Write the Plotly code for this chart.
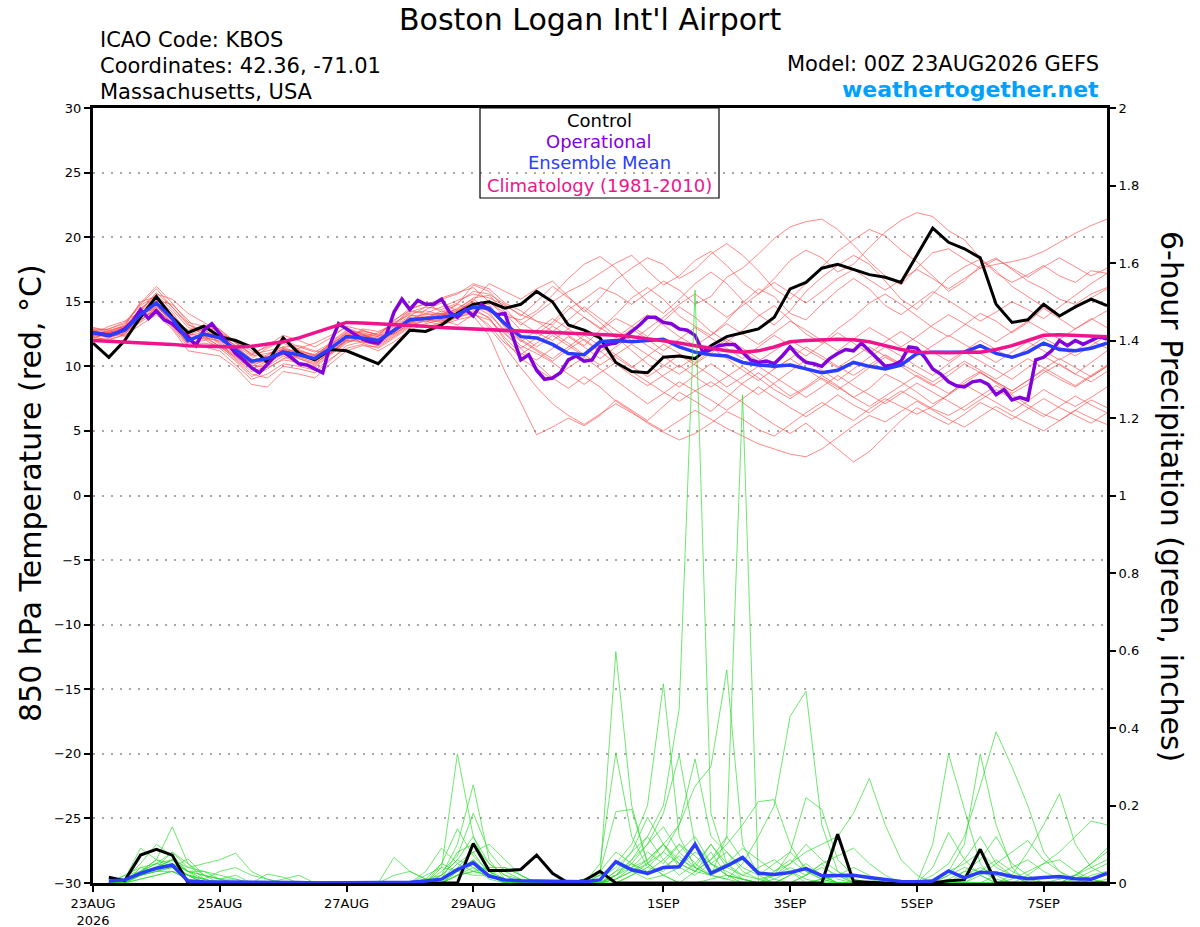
import pandas as pd
import plotly.graph_objects as go

FONT = "DejaVu Sans, Verdana, sans-serif"

# time axis: GEFS run 00Z 23AUG2026, 6-hourly (ensemble) and 3-hourly (operational)
run_start = "2026-08-23 00:00"
run_end = "2026-09-08 00:00"
t6 = pd.date_range(run_start, periods=65, freq="6h")
t3 = pd.date_range(run_start, periods=129, freq="3h")

tick_dates = ["2026-08-23", "2026-08-25", "2026-08-27", "2026-08-29",
              "2026-09-01", "2026-09-03", "2026-09-05", "2026-09-07"]
tick_text = ["23AUG<br>2026", "25AUG", "27AUG", "29AUG", "1SEP", "3SEP", "5SEP", "7SEP"]

# 850 hPa temperature (C), 6-hourly
control_t = [11.8, 10.7, 12.0, 13.8, 15.4, 13.8, 12.6, 13.1, 12.3, 12.0, 11.5, 10.3, 12.2,
             11.0, 10.5, 11.3, 11.2, 10.7, 10.2, 11.5, 12.8, 12.7, 13.2, 14.1, 14.8, 15.0,
             14.5, 14.8, 15.8, 15.0, 13.2, 12.8, 12.2, 10.3, 9.6, 9.5, 10.7, 10.8, 10.6,
             11.6, 12.3, 12.6, 12.9, 13.8, 16.0, 16.5, 17.6, 17.9, 17.5, 17.1, 16.9, 16.5,
             18.6, 20.7, 19.6, 19.1, 18.4, 14.8, 13.4, 13.6, 14.8, 13.9, 14.6, 15.2, 14.7]

mean_t = [12.6, 12.4, 12.8, 14.0, 14.9, 13.7, 12.0, 12.5, 12.2, 11.3, 10.4, 10.6, 11.1,
          10.9, 10.6, 11.4, 12.3, 12.2, 12.0, 12.8, 13.6, 13.7, 13.8, 14.0, 14.6, 14.5,
          13.3, 12.3, 12.2, 11.7, 11.0, 10.9, 11.9, 12.0, 11.9, 12.0, 12.1, 11.5, 11.1,
          10.9, 10.8, 10.3, 10.1, 10.0, 10.1, 9.8, 9.5, 9.7, 10.3, 10.0, 9.8, 10.1,
          11.0, 11.1, 11.1, 11.1, 11.6, 11.0, 10.7, 11.1, 11.8, 11.3, 11.2, 11.4, 11.8]

clim_t = [12.0, 11.95, 11.9, 11.8, 11.75, 11.7, 11.6, 11.55, 11.5, 11.5, 11.55, 11.7, 11.9,
          12.2, 12.6, 13.0, 13.4, 13.35, 13.3, 13.25, 13.2, 13.1, 13.0, 12.95, 12.9, 12.85,
          12.75, 12.7, 12.65, 12.6, 12.55, 12.5, 12.5, 12.4, 12.3, 12.15, 12.0, 11.8, 11.6,
          11.4, 11.2, 11.1, 11.2, 11.5, 11.9, 12.0, 12.05, 12.1, 12.05, 11.9, 11.6, 11.3,
          11.1, 11.05, 11.05, 11.1, 11.1, 11.3, 11.6, 12.0, 12.4, 12.45, 12.4, 12.4, 12.3]

# operational run, 3-hourly
oper_t = [12.6, 12.5, 12.4, 12.6, 12.9, 13.5, 14.4, 13.7, 14.3, 13.6, 13.3, 12.7, 12.3,
          11.6, 12.8, 13.3, 12.5, 11.7, 11.0, 10.5, 9.9, 9.5, 10.2, 10.8, 11.1, 10.7,
          10.2, 10.1, 9.8, 9.5, 11.8, 13.3, 12.9, 12.5, 12.1, 11.9, 11.8, 12.4, 14.2,
          15.2, 14.4, 15.1, 14.8, 14.8, 15.2, 14.2, 13.8, 14.4, 13.9, 14.8, 14.4, 14.0,
          14.1, 12.3, 10.5, 10.9, 9.7, 9.0, 9.1, 9.5, 10.5, 10.8, 10.4, 10.5, 11.5,
          11.7, 11.8, 12.2, 12.7, 13.2, 13.8, 13.8, 13.4, 13.3, 12.9, 12.8, 12.4, 11.1,
          11.3, 11.6, 11.7, 11.7, 11.1, 10.5, 10.3, 10.4, 10.2, 10.8, 11.5, 10.8, 10.3,
          10.2, 10.0, 10.6, 11.0, 11.3, 11.2, 11.8, 11.2, 10.6, 10.0, 10.1, 10.4, 11.5,
          11.4, 10.7, 9.8, 9.4, 8.8, 8.5, 8.4, 8.8, 8.9, 8.6, 7.8, 8.2, 7.4,
          7.6, 7.4, 10.5, 10.7, 11.2, 12.0, 11.6, 12.0, 11.7, 12.0, 12.3, 12.1]

# ensemble members, 850 hPa temperature (C), 6-hourly
temp_members = [
    [12.8, 12.9, 13.4, 14.8, 16.0, 14.6, 13.2, 12.8, 12.2, 11.4, 10.2, 10.8, 11.8,
     11.2, 10.5, 11.9, 12.8, 12.6, 12.3, 13.6, 14.3, 14.1, 14.6, 15.1, 15.6, 15.3,
     14.7, 14.0, 13.5, 13.2, 14.4, 15.2, 16.1, 15.6, 14.8, 15.7, 16.6, 15.9, 14.8,
     15.4, 16.9, 17.6, 18.7, 19.9, 20.8, 21.2, 21.4, 20.6, 19.4, 18.1, 17.0, 16.3,
     17.6, 18.8, 19.1, 18.3, 17.6, 17.9, 18.1, 18.4, 18.9, 19.6, 20.3, 20.9, 21.4],
    [12.4, 12.7, 13.1, 15.0, 15.4, 14.0, 12.6, 13.2, 12.9, 11.8, 10.9, 11.2, 11.5,
     11.6, 11.2, 11.0, 12.0, 12.9, 12.7, 13.2, 14.4, 14.9, 14.2, 14.8, 16.3, 15.8,
     14.5, 13.2, 14.1, 15.0, 15.8, 16.4, 17.2, 18.0, 18.6, 17.4, 16.3, 17.0, 18.2,
     18.9, 17.8, 16.5, 15.6, 16.8, 18.2, 19.0, 18.4, 17.3, 17.9, 19.2, 20.4, 21.3,
     21.9, 21.6, 20.5, 19.8, 18.4, 17.2, 16.5, 17.1, 17.8, 17.0, 16.5, 17.4, 17.2],
    [12.9, 12.2, 12.6, 13.8, 15.1, 14.8, 13.6, 12.2, 11.6, 10.8, 9.8, 10.2, 11.4,
     10.6, 10.1, 11.2, 12.1, 12.8, 12.4, 12.5, 13.3, 14.4, 14.9, 14.3, 15.1, 16.4,
     15.8, 15.2, 16.0, 16.6, 15.4, 14.2, 15.3, 16.7, 17.6, 18.4, 17.9, 16.8, 17.5,
     18.7, 19.5, 18.6, 17.4, 16.0, 15.2, 16.4, 17.7, 18.9, 19.8, 20.6, 20.1, 19.0,
     18.1, 17.0, 15.8, 16.6, 17.8, 18.4, 17.5, 16.6, 16.0, 15.2, 14.8, 15.6, 16.1],
    [12.2, 12.5, 13.0, 14.3, 15.6, 15.2, 14.1, 13.4, 12.6, 11.9, 11.2, 10.7, 11.0,
     11.4, 11.8, 12.4, 13.0, 12.5, 11.8, 12.6, 13.9, 14.6, 15.3, 15.7, 16.1, 15.0,
     13.9, 13.6, 14.3, 15.5, 16.8, 17.9, 18.5, 17.6, 16.2, 15.0, 14.1, 15.2, 16.4,
     17.3, 16.4, 15.1, 14.0, 13.2, 14.3, 15.8, 16.9, 17.8, 18.6, 17.9, 16.6, 15.2,
     14.4, 15.6, 16.9, 17.7, 18.3, 17.4, 16.2, 15.4, 14.6, 13.9, 14.5, 15.3, 16.0],
    [13.0, 12.8, 12.3, 13.6, 14.5, 13.2, 11.8, 12.0, 12.6, 11.5, 10.6, 11.4, 12.0,
     11.3, 10.8, 11.6, 12.6, 12.0, 11.6, 13.0, 13.8, 13.4, 14.0, 14.8, 14.4, 15.0,
     14.1, 12.8, 12.5, 13.4, 14.7, 13.8, 12.9, 14.0, 15.3, 16.1, 15.2, 13.9, 13.1,
     12.4, 13.5, 14.9, 16.0, 15.4, 14.1, 13.6, 14.8, 15.9, 16.8, 16.0, 14.7, 14.0,
     14.9, 15.8, 15.1, 14.3, 13.5, 14.2, 15.0, 14.4, 13.7, 14.6, 15.5, 16.4, 17.2],
    [12.5, 13.1, 13.5, 14.2, 14.4, 13.4, 12.4, 12.9, 11.8, 10.6, 9.6, 10.0, 10.8,
     10.2, 9.9, 10.9, 11.8, 12.3, 12.6, 13.4, 14.0, 13.6, 13.5, 14.3, 15.0, 14.2,
     12.6, 11.4, 12.2, 13.1, 12.4, 11.6, 12.8, 13.7, 13.1, 12.3, 13.5, 14.6, 13.8,
     12.7, 11.9, 12.8, 13.9, 14.7, 13.6, 12.5, 11.8, 12.9, 13.8, 14.9, 15.6, 14.8,
     13.9, 13.0, 12.3, 13.2, 14.1, 13.5, 12.6, 13.4, 14.5, 13.7, 12.9, 13.6, 14.3],
    [12.7, 12.3, 12.9, 14.1, 15.0, 13.9, 12.3, 12.1, 11.4, 10.4, 9.2, 9.8, 10.6,
     10.8, 10.4, 11.1, 12.0, 11.9, 11.6, 12.4, 13.2, 13.5, 13.2, 13.6, 13.9, 12.4,
     9.6, 7.2, 4.7, 5.3, 6.0, 5.4, 6.2, 7.4, 6.6, 5.8, 6.9, 8.0, 7.3,
     6.5, 7.6, 8.7, 9.5, 8.6, 7.7, 8.4, 9.3, 8.5, 7.6, 8.3, 9.4, 8.8,
     8.0, 7.1, 7.8, 8.9, 9.6, 8.7, 7.9, 8.6, 9.5, 10.2, 9.4, 8.8, 9.6],
    [12.3, 12.0, 12.5, 13.5, 14.6, 13.5, 11.6, 11.5, 11.2, 10.1, 9.0, 9.4, 10.2,
     10.0, 9.7, 10.6, 11.4, 11.7, 11.2, 11.9, 12.8, 13.3, 13.6, 13.2, 14.0, 13.6,
     12.5, 11.4, 10.2, 9.1, 8.3, 9.2, 8.4, 7.3, 6.5, 5.6, 4.9, 4.3, 4.8,
     5.6, 6.5, 5.9, 5.1, 4.6, 5.5, 6.4, 7.2, 6.5, 5.8, 6.7, 7.5, 6.9,
     6.3, 6.9, 7.8, 8.6, 7.9, 7.2, 6.5, 7.3, 8.2, 7.5, 6.9, 7.6, 8.4],
    [12.6, 12.6, 13.0, 14.5, 15.3, 14.2, 12.5, 12.3, 11.9, 11.0, 10.1, 9.9, 10.5,
     10.3, 10.0, 11.0, 12.1, 12.4, 12.1, 12.9, 13.5, 13.0, 13.4, 14.2, 14.7, 14.0,
     12.8, 11.6, 11.0, 10.3, 9.4, 8.6, 9.5, 10.3, 9.6, 8.8, 8.0, 7.3, 8.1,
     8.8, 8.0, 7.2, 6.3, 5.5, 4.8, 5.6, 4.6, 3.6, 2.6, 3.4, 4.6, 5.8,
     6.8, 6.1, 5.5, 6.3, 7.2, 6.6, 5.9, 6.7, 7.5, 6.8, 6.2, 5.6, 6.4],
    [12.9, 12.4, 12.7, 13.9, 14.8, 13.3, 11.9, 12.4, 12.5, 11.6, 10.5, 10.3, 10.9,
     11.2, 10.9, 11.7, 12.5, 11.8, 11.4, 12.2, 13.0, 13.7, 14.3, 13.9, 14.3, 13.8,
     12.0, 10.6, 9.8, 9.0, 9.9, 10.7, 9.8, 8.9, 8.0, 7.1, 7.9, 8.8, 8.1,
     7.4, 6.6, 7.5, 8.4, 7.6, 6.8, 6.1, 6.9, 7.8, 7.0, 6.4, 7.3, 8.1,
     7.4, 6.7, 6.2, 6.9, 7.7, 8.5, 7.8, 7.0, 6.3, 5.8, 6.6, 7.4, 6.8],
    [12.4, 12.9, 13.3, 14.7, 15.5, 14.4, 13.0, 12.7, 11.7, 10.9, 10.3, 10.9, 11.5,
     11.0, 10.6, 11.3, 12.2, 12.5, 12.0, 12.6, 13.6, 14.1, 13.9, 14.5, 15.2, 14.4,
     13.1, 12.0, 11.2, 10.4, 11.3, 12.1, 11.2, 10.2, 9.3, 8.5, 9.3, 10.1, 9.2,
     8.4, 9.2, 10.0, 9.1, 8.2, 7.5, 8.3, 9.1, 8.4, 7.6, 6.9, 7.7, 8.5,
     9.3, 8.6, 7.9, 8.7, 9.5, 8.8, 8.1, 8.9, 9.7, 9.0, 8.4, 9.2, 10.0],
    [12.1, 12.2, 12.8, 13.9, 14.2, 13.1, 11.7, 12.2, 12.0, 11.1, 10.0, 10.6, 11.2,
     10.7, 10.3, 11.0, 11.9, 12.1, 11.9, 12.7, 13.4, 13.8, 14.1, 14.0, 14.5, 13.7,
     12.2, 11.0, 10.5, 11.4, 12.3, 11.5, 10.6, 11.5, 12.4, 11.6, 10.8, 9.9, 10.7,
     11.5, 10.6, 9.7, 8.9, 9.8, 10.6, 9.8, 9.0, 8.2, 9.0, 9.9, 10.7, 10.0,
     9.2, 8.5, 9.3, 10.2, 9.5, 8.8, 8.1, 8.9, 9.8, 10.6, 9.9, 9.2, 10.0],
    [12.6, 12.4, 12.9, 14.3, 15.2, 13.8, 12.4, 12.6, 12.4, 11.6, 10.8, 11.0, 11.3,
     11.1, 10.9, 11.7, 12.6, 12.4, 12.2, 13.1, 13.9, 14.0, 14.1, 14.4, 15.3, 15.5,
     14.2, 13.4, 12.6, 12.0, 12.9, 13.8, 13.0, 12.2, 13.1, 14.0, 13.2, 12.3, 11.6,
     12.4, 13.3, 12.5, 11.7, 12.6, 13.5, 12.8, 12.0, 11.2, 12.1, 13.0, 12.3, 11.5,
     12.3, 13.2, 14.0, 13.3, 12.6, 11.9, 12.7, 13.5, 12.8, 12.1, 12.9, 13.7, 13.0],
    [12.8, 12.1, 12.4, 13.2, 14.0, 12.9, 11.2, 11.0, 10.8, 9.9, 8.6, 8.4, 9.6,
     9.4, 9.1, 10.2, 11.2, 11.6, 11.5, 12.3, 13.1, 13.0, 13.2, 13.8, 14.1, 13.2,
     11.8, 10.9, 11.8, 12.6, 11.8, 10.9, 10.1, 10.9, 11.7, 10.9, 10.1, 9.4, 10.2,
     11.0, 11.9, 11.1, 10.4, 11.2, 12.0, 11.3, 10.6, 9.9, 10.7, 11.5, 10.8, 10.1,
     10.8, 11.6, 12.4, 11.7, 11.0, 10.3, 11.1, 11.9, 11.2, 10.5, 11.2, 12.0, 11.4],
    [12.5, 12.7, 13.2, 14.9, 16.2, 14.9, 13.4, 13.1, 12.8, 11.9, 10.9, 11.6, 12.4,
     12.0, 11.5, 12.2, 13.1, 12.8, 12.4, 13.5, 14.5, 14.8, 15.2, 15.6, 16.4, 16.0,
     14.9, 14.3, 13.5, 12.7, 13.6, 14.6, 13.7, 12.8, 12.0, 12.9, 13.8, 14.8, 15.6,
     14.7, 13.8, 14.7, 15.6, 16.5, 15.7, 14.9, 15.8, 16.8, 17.5, 16.7, 15.9, 16.7,
     17.5, 16.8, 16.0, 16.8, 17.6, 18.3, 17.6, 16.9, 17.7, 18.4, 17.7, 17.0, 17.6],
    [12.3, 12.8, 13.1, 14.0, 14.6, 13.6, 12.2, 12.4, 12.1, 11.2, 10.2, 10.4, 11.0,
     10.6, 10.2, 11.1, 12.0, 12.2, 12.0, 12.8, 13.7, 13.9, 13.6, 13.9, 14.8, 14.3,
     13.4, 12.4, 11.5, 12.4, 11.6, 10.8, 11.7, 10.9, 10.0, 9.2, 10.0, 10.9, 10.1,
     9.3, 8.4, 9.2, 10.0, 9.2, 8.4, 7.6, 8.4, 9.3, 8.5, 7.8, 7.1, 7.9,
     8.7, 8.0, 7.3, 6.6, 7.4, 8.2, 7.5, 6.8, 6.1, 6.9, 7.7, 7.0, 6.4],
    [12.7, 12.5, 12.6, 13.7, 14.7, 13.8, 12.8, 13.0, 12.7, 11.8, 11.0, 11.5, 12.1,
     11.5, 11.1, 11.8, 12.7, 12.5, 12.3, 13.2, 14.1, 14.3, 14.0, 14.1, 14.9, 14.6,
     13.0, 11.9, 12.8, 13.7, 12.9, 12.0, 11.1, 12.0, 12.9, 12.1, 11.2, 12.1, 13.0,
     12.2, 11.4, 10.6, 11.5, 12.4, 11.6, 10.8, 11.7, 12.6, 11.8, 11.0, 11.9, 12.7,
     11.9, 11.1, 10.4, 11.2, 12.0, 11.3, 10.6, 11.4, 12.2, 11.5, 10.8, 11.6, 12.4],
    [12.2, 12.6, 12.7, 13.4, 14.3, 13.0, 11.5, 11.8, 11.6, 10.5, 9.4, 9.1, 10.0,
     9.8, 9.5, 10.5, 11.6, 11.9, 11.7, 12.5, 13.3, 13.6, 13.4, 13.8, 14.2, 13.0,
     11.5, 9.9, 8.4, 7.1, 6.2, 5.5, 6.3, 7.1, 6.4, 5.7, 5.0, 5.8, 6.6,
     5.9, 5.2, 4.6, 4.0, 3.6, 3.2, 3.0, 3.6, 4.5, 5.4, 6.2, 5.7, 6.5,
     7.3, 6.6, 5.9, 5.3, 6.1, 6.9, 6.2, 5.6, 5.0, 5.8, 6.6, 6.0, 5.5],
    [13.0, 12.6, 13.1, 14.4, 15.7, 14.6, 13.3, 12.4, 11.5, 10.7, 9.8, 10.4, 11.3,
     10.8, 10.5, 11.4, 12.4, 12.7, 12.5, 13.3, 14.2, 14.6, 14.4, 14.9, 15.8, 15.6,
     14.8, 13.9, 15.0, 16.2, 15.3, 14.4, 13.4, 12.3, 11.2, 10.2, 9.2, 8.4, 9.3,
     10.2, 9.4, 8.6, 7.8, 8.7, 9.6, 10.5, 9.7, 8.9, 9.8, 10.7, 11.5, 10.8,
     10.0, 9.3, 10.2, 11.1, 10.4, 9.7, 9.0, 9.9, 10.8, 10.1, 9.4, 10.3, 11.2],
    [12.4, 12.3, 12.5, 13.6, 14.4, 13.3, 12.0, 12.3, 12.3, 11.4, 10.5, 10.7, 11.4,
     11.0, 10.8, 11.5, 12.3, 12.1, 11.9, 12.6, 13.4, 13.7, 14.0, 14.3, 14.9, 14.8,
     13.2, 12.1, 11.3, 10.6, 11.5, 12.4, 11.6, 10.7, 9.9, 10.8, 11.7, 11.0, 10.3,
     11.2, 12.1, 11.4, 10.6, 9.8, 10.6, 11.5, 10.8, 10.0, 9.3, 10.1, 10.9, 10.2,
     9.5, 8.8, 9.6, 10.4, 9.7, 9.0, 9.8, 10.6, 9.9, 9.2, 8.5, 9.3, 10.1],
]

# 6-hour precipitation (inches), valid 06Z 23AUG onward
control_p = [0.015, 0.006, 0.072, 0.087, 0.072, 0, 0, 0, 0, 0, 0, 0, 0, 0, 0, 0,
             0, 0, 0, 0, 0, 0, 0, 0.102, 0.032, 0.032, 0.035, 0.072, 0.025, 0, 0.006, 0.03,
             0, 0, 0, 0, 0, 0, 0, 0, 0, 0, 0, 0, 0, 0, 0.126, 0.004,
             0.002, 0, 0, 0, 0, 0.006, 0.008, 0.087, 0, 0, 0, 0, 0, 0, 0, 0]

mean_p = [0.005, 0.008, 0.025, 0.038, 0.046, 0.005, 0.003, 0.003, 0.003, 0.002, 0.002, 0.001, 0.001, 0, 0, 0,
          0, 0, 0.002, 0.002, 0.005, 0.01, 0.035, 0.052, 0.018, 0.008, 0.006, 0.005, 0.004, 0.002, 0.003, 0.008,
          0.055, 0.034, 0.025, 0.04, 0.042, 0.1, 0.025, 0.044, 0.066, 0.025, 0.022, 0.027, 0.037, 0.019, 0.019, 0.02,
          0.014, 0.008, 0.004, 0.003, 0.005, 0.031, 0.013, 0.028, 0.026, 0.017, 0.011, 0.014, 0.017, 0.011, 0.01, 0.025]

precip_members = [
    [0, 0.01, 0.03, 0.06, 0.145, 0.05, 0.01, 0, 0, 0, 0, 0, 0, 0, 0, 0,
     0, 0, 0, 0, 0, 0.04, 0.333, 0.12, 0.03, 0, 0, 0, 0, 0, 0, 0.02,
     0.597, 0.2, 0.05, 0.02, 0, 0.03, 0.08, 0.02, 0, 0, 0.01, 0.03, 0, 0, 0, 0,
     0, 0, 0, 0, 0.02, 0.05, 0.12, 0.25, 0.39, 0.3, 0.2, 0.08, 0.03, 0, 0, 0],
    [0, 0, 0.02, 0.04, 0.05, 0.02, 0, 0, 0, 0, 0, 0, 0, 0, 0, 0,
     0, 0, 0, 0, 0, 0.02, 0.1, 0.253, 0.06, 0.01, 0, 0, 0, 0, 0, 0,
     0.02, 0.06, 0.12, 0.2, 0.45, 1.53, 0.18, 0.05, 0.01, 0, 0, 0, 0.02, 0.05, 0.01, 0,
     0, 0, 0, 0, 0.1, 0.333, 0.19, 0.05, 0, 0, 0, 0, 0, 0, 0.02, 0.03],
    [0, 0.01, 0.05, 0.1, 0.07, 0.03, 0, 0, 0, 0, 0, 0, 0, 0, 0, 0,
     0, 0, 0, 0, 0, 0, 0.03, 0.06, 0.02, 0, 0, 0, 0, 0, 0.01, 0.03,
     0.08, 0.05, 0.03, 0.06, 0.1, 0.05, 0.02, 0.12, 1.26, 0, 0, 0.02, 0.04, 0.02, 0, 0,
     0, 0, 0, 0, 0, 0.03, 0.1, 0.333, 0.15, 0.04, 0, 0, 0, 0.01, 0.03, 0.05],
    [0, 0, 0.02, 0.03, 0.04, 0.02, 0.01, 0, 0, 0, 0, 0, 0, 0, 0, 0,
     0, 0, 0, 0, 0, 0.01, 0.05, 0.08, 0.02, 0, 0, 0, 0, 0, 0, 0.02,
     0.05, 0.1, 0.2, 0.514, 0.12, 0.04, 0.02, 0.01, 0.05, 0.12, 0.2, 0.43, 0.495, 0.15, 0.03, 0,
     0, 0, 0, 0, 0, 0, 0.02, 0.04, 0.02, 0, 0, 0, 0, 0, 0, 0],
    [0, 0, 0.01, 0.02, 0.03, 0.01, 0, 0, 0, 0, 0, 0, 0, 0, 0, 0,
     0, 0, 0, 0, 0, 0, 0.02, 0.04, 0.01, 0, 0, 0, 0, 0, 0, 0.05,
     0.336, 0.12, 0.04, 0.08, 0.15, 0.25, 0.3, 0.55, 0.1, 0.02, 0, 0, 0, 0.01, 0.02, 0,
     0, 0, 0, 0, 0, 0, 0, 0, 0, 0.02, 0.08, 0.15, 0.23, 0.1, 0.04, 0.02],
    [0, 0.02, 0.04, 0.05, 0.08, 0.04, 0.03, 0.01, 0.02, 0, 0, 0, 0, 0, 0, 0,
     0, 0, 0, 0, 0.01, 0.02, 0.06, 0.12, 0.05, 0.02, 0.01, 0, 0, 0, 0, 0,
     0.02, 0.05, 0.1, 0.18, 0.33, 0.1, 0.05, 0.03, 0.01, 0, 0.02, 0.05, 0.08, 0.1, 0.12, 0.18,
     0.27, 0.15, 0.06, 0.02, 0, 0, 0, 0, 0, 0, 0, 0, 0.01, 0.02, 0.01, 0],
    [0, 0.01, 0.09, 0.06, 0.04, 0.02, 0, 0, 0, 0, 0, 0, 0, 0, 0, 0,
     0, 0, 0, 0, 0.03, 0.09, 0.05, 0.03, 0.02, 0.01, 0, 0, 0, 0, 0, 0,
     0, 0.02, 0.05, 0.1, 0.15, 0.32, 0.12, 0.08, 0.04, 0.02, 0.05, 0.08, 0.04, 0.02, 0, 0,
     0, 0, 0, 0, 0, 0.02, 0.06, 0.12, 0.05, 0.02, 0, 0, 0, 0, 0, 0],
    [0, 0, 0.03, 0.05, 0.06, 0.04, 0.05, 0.06, 0.077, 0.03, 0.01, 0, 0, 0, 0, 0,
     0, 0, 0, 0, 0, 0, 0.04, 0.08, 0.1, 0.06, 0.02, 0, 0, 0, 0, 0,
     0.01, 0.03, 0.06, 0.1, 0.05, 0.03, 0.06, 0.1, 0.15, 0.21, 0.215, 0.1, 0.03, 0.01, 0, 0,
     0, 0, 0, 0, 0, 0, 0, 0, 0, 0, 0, 0, 0, 0.02, 0.05, 0.08],
    [0, 0, 0.02, 0.03, 0.05, 0.03, 0.03, 0.02, 0.01, 0, 0, 0, 0, 0, 0, 0,
     0, 0, 0, 0, 0, 0.01, 0.08, 0.1, 0.05, 0.02, 0, 0, 0, 0, 0.01, 0.03,
     0.184, 0.19, 0.05, 0.02, 0, 0, 0.01, 0.02, 0.01, 0, 0, 0, 0.02, 0.04, 0.02, 0,
     0, 0, 0, 0, 0, 0, 0, 0, 0, 0, 0.02, 0.05, 0.08, 0.12, 0.16, 0.15],
    [0, 0.01, 0.02, 0.04, 0.06, 0.03, 0.02, 0.01, 0, 0, 0, 0, 0, 0, 0, 0,
     0, 0, 0.066, 0.03, 0.01, 0, 0.02, 0.05, 0.03, 0.01, 0, 0, 0, 0, 0, 0,
     0.03, 0.08, 0.12, 0.06, 0.02, 0.05, 0.1, 0.04, 0.02, 0.01, 0.02, 0.08, 0.22, 0.19, 0.06, 0.02,
     0.01, 0, 0, 0, 0, 0, 0, 0.03, 0.06, 0.03, 0.01, 0, 0, 0, 0, 0],
    [0, 0, 0.03, 0.05, 0.04, 0.062, 0.02, 0, 0, 0, 0.023, 0.015, 0, 0, 0, 0,
     0, 0, 0, 0, 0, 0.03, 0.07, 0.18, 0.08, 0.03, 0.01, 0, 0, 0, 0, 0,
     0, 0.02, 0.04, 0.03, 0.08, 0.12, 0.05, 0.02, 0.01, 0, 0, 0, 0, 0, 0.02, 0.04,
     0.02, 0, 0, 0, 0.04, 0.13, 0.06, 0.02, 0, 0, 0, 0, 0, 0, 0, 0],
    [0, 0.01, 0.03, 0.06, 0.05, 0.02, 0.01, 0.03, 0.04, 0.02, 0.01, 0, 0, 0, 0, 0,
     0, 0, 0, 0, 0.02, 0.04, 0.03, 0.06, 0.02, 0, 0, 0, 0, 0, 0, 0.01,
     0.04, 0.08, 0.17, 0.1, 0.04, 0.02, 0.05, 0.08, 0.03, 0.01, 0, 0.02, 0.05, 0.02, 0, 0,
     0, 0, 0, 0, 0, 0, 0, 0.02, 0.05, 0.08, 0.11, 0.06, 0.03, 0.01, 0, 0],
    [0, 0.02, 0.03, 0.04, 0.05, 0.03, 0.02, 0.01, 0.01, 0, 0, 0, 0, 0, 0, 0,
     0, 0, 0, 0, 0.01, 0.05, 0.14, 0.07, 0.03, 0.01, 0, 0, 0, 0, 0, 0,
     0.02, 0.04, 0.06, 0.1, 0.06, 0.04, 0.1, 0.05, 0.02, 0.04, 0.06, 0.03, 0.01, 0, 0, 0,
     0, 0, 0, 0, 0, 0, 0, 0, 0.02, 0.04, 0.06, 0.03, 0.01, 0.02, 0.04, 0.06],
    [0, 0, 0.04, 0.03, 0.03, 0.02, 0, 0, 0, 0, 0, 0, 0, 0, 0, 0,
     0, 0, 0, 0, 0, 0, 0.02, 0.03, 0.02, 0, 0, 0, 0, 0, 0, 0,
     0.01, 0.03, 0.05, 0.08, 0.05, 0.03, 0.06, 0.12, 0.06, 0.03, 0.01, 0, 0, 0, 0, 0,
     0, 0, 0, 0, 0, 0, 0.03, 0.06, 0.12, 0.05, 0.02, 0, 0, 0.02, 0.05, 0.09],
    [0, 0.01, 0.02, 0.04, 0.08, 0.05, 0.02, 0.01, 0, 0, 0, 0, 0, 0, 0, 0,
     0, 0, 0, 0, 0, 0.05, 0.03, 0.02, 0.02, 0.04, 0.02, 0, 0, 0, 0, 0,
     0.03, 0.05, 0.02, 0.04, 0.07, 0.03, 0.02, 0.04, 0.06, 0.03, 0.02, 0.04, 0.02, 0.05, 0.07, 0.09,
     0.05, 0.02, 0, 0, 0, 0, 0, 0, 0, 0, 0, 0, 0, 0, 0, 0.01],
    [0, 0, 0.01, 0.02, 0.03, 0.01, 0, 0, 0, 0, 0, 0, 0, 0, 0, 0,
     0, 0, 0, 0, 0, 0, 0.02, 0.03, 0.04, 0.04, 0.02, 0, 0, 0, 0, 0,
     0.02, 0.06, 0.1, 0.145, 0.08, 0.04, 0.02, 0.01, 0, 0, 0, 0, 0, 0.01, 0.02, 0.01,
     0, 0, 0, 0, 0, 0.01, 0.03, 0.02, 0, 0.01, 0.03, 0.05, 0.06, 0.03, 0.01, 0],
    [0, 0.01, 0.02, 0.03, 0.04, 0.02, 0.01, 0, 0, 0, 0, 0.01, 0.02, 0, 0, 0,
     0, 0, 0, 0, 0, 0.02, 0.06, 0.04, 0.02, 0, 0, 0, 0, 0, 0, 0,
     0.01, 0.04, 0.08, 0.05, 0.1, 0.07, 0.03, 0.05, 0.09, 0.06, 0.03, 0.05, 0.1, 0.06, 0.03, 0.01,
     0, 0, 0, 0, 0, 0.02, 0.04, 0.03, 0.01, 0, 0, 0, 0, 0, 0, 0],
    [0, 0, 0.02, 0.04, 0.06, 0.03, 0.01, 0, 0, 0, 0, 0, 0, 0, 0, 0,
     0, 0, 0.02, 0.03, 0.01, 0, 0.03, 0.05, 0.02, 0, 0, 0, 0, 0, 0.01, 0.02,
     0.05, 0.03, 0.01, 0.02, 0.04, 0.08, 0.05, 0.02, 0.01, 0, 0.03, 0.06, 0.03, 0.01, 0, 0,
     0, 0, 0, 0, 0.01, 0.03, 0.05, 0.08, 0.04, 0.02, 0, 0, 0, 0, 0, 0],
]

# plot box in pixels (left, top, right, bottom) -> paper coords for text placement
L, T, R, B = 93, 108, 1107, 883


def paper(x, y):
    return (x - L) / (R - L), (B - y) / (B - T)


fig = go.Figure()

for m in temp_members:
    fig.add_trace(go.Scatter(x=t6[:len(m)], y=m, mode="lines",
                             line=dict(color="rgba(255,70,70,0.8)", width=0.8),
                             hoverinfo="skip"))

for p in precip_members:
    fig.add_trace(go.Scatter(x=t6[1:1 + len(p)], y=p, mode="lines", yaxis="y2",
                             line=dict(color="rgba(40,220,40,0.85)", width=0.8),
                             hoverinfo="skip"))

fig.add_trace(go.Scatter(x=t6[1:1 + len(control_p)], y=control_p, mode="lines", yaxis="y2",
                         line=dict(color="black", width=3)))
fig.add_trace(go.Scatter(x=t6[1:1 + len(mean_p)], y=mean_p, mode="lines", yaxis="y2",
                         line=dict(color="#2a3cff", width=3.5)))

fig.add_trace(go.Scatter(x=t6[:len(control_t)], y=control_t, mode="lines",
                         line=dict(color="black", width=3)))
fig.add_trace(go.Scatter(x=t3[:len(oper_t)], y=oper_t, mode="lines",
                         line=dict(color="#8200dc", width=3.5)))
fig.add_trace(go.Scatter(x=t6[:len(mean_t)], y=mean_t, mode="lines",
                         line=dict(color="#2a3cff", width=3.5)))
fig.add_trace(go.Scatter(x=t6[:len(clim_t)], y=clim_t, mode="lines",
                         line=dict(color="#f0148c", width=3.5)))

axis_common = dict(showline=True, linewidth=3, linecolor="black", zeroline=False,
                   automargin=False, ticks="outside", ticklen=6, tickwidth=1.5,
                   tickcolor="black", tickfont=dict(family=FONT, size=13, color="black"))

fig.update_layout(
    width=1200, height=927,
    margin=dict(l=L, r=1200 - R, t=T, b=927 - B),
    paper_bgcolor="white", plot_bgcolor="white",
    showlegend=False, hovermode=False,
    font=dict(family=FONT, color="black"),
    xaxis=dict(type="date", range=[run_start, run_end], tickvals=tick_dates,
               ticktext=tick_text, showgrid=False, mirror=True, **axis_common),
    yaxis=dict(range=[-30, 30], tick0=-30, dtick=5, showgrid=True, gridcolor="#a8a8a8",
               griddash="2px,7px", gridwidth=1.5, mirror=True, **axis_common),
    yaxis2=dict(range=[0, 2], tick0=0, dtick=0.2, overlaying="y", side="right",
                showgrid=False, **axis_common),
)

notes = [
    ("Boston Logan Int'l Airport", 590, 19, 30, "black", "center", False),
    ("ICAO Code: KBOS", 98, 40, 21, "black", "left", False),
    ("Coordinates: 42.36, -71.01", 98, 66, 21, "black", "left", False),
    ("Massachusetts, USA", 98, 92, 21, "black", "left", False),
    ("Model: 00Z 23AUG2026 GEFS", 1101, 64, 21, "black", "right", False),
    ("weathertogether.net", 1101, 89, 22, "#00a0ff", "right", True),
    ("Control", 599, 120, 18, "black", "center", False),
    ("Operational", 599, 142, 18, "#8200dc", "center", False),
    ("Ensemble Mean", 599, 163, 18, "#2a3cff", "center", False),
    ("Climatology (1981-2010)", 599, 185, 18, "#f0148c", "center", False),
]
for text, x, y, size, color, anchor, bold in notes:
    px, py = paper(x, y)
    fig.add_annotation(x=px, y=py, xref="paper", yref="paper",
                       text=f"<b>{text}</b>" if bold else text,
                       showarrow=False, xanchor=anchor, yanchor="middle",
                       font=dict(family=FONT, size=size, color=color))

lx, ly = paper(30, 493)
fig.add_annotation(x=lx, y=ly, xref="paper", yref="paper", text="850 hPa Temperature (red, °C)",
                   textangle=-90, showarrow=False, xanchor="center", yanchor="middle",
                   font=dict(family=FONT, size=30, color="black"))
rx, ry = paper(1172, 496)
fig.add_annotation(x=rx, y=ry, xref="paper", yref="paper", text="6-hour Precipitation (green, inches)",
                   textangle=90, showarrow=False, xanchor="center", yanchor="middle",
                   font=dict(family=FONT, size=30, color="black"))

bx0, by0 = paper(480, 198)
bx1, by1 = paper(719, T)
fig.add_shape(type="rect", xref="paper", yref="paper", x0=bx0, y0=by0, x1=bx1, y1=by1,
              line=dict(color="black", width=1.2), layer="above")

# drop the default 8px page margin so the figure sits at the window origin
fig.write_html("out.html", config={"displayModeBar": False},
               post_script="document.body.style.margin='0';")
